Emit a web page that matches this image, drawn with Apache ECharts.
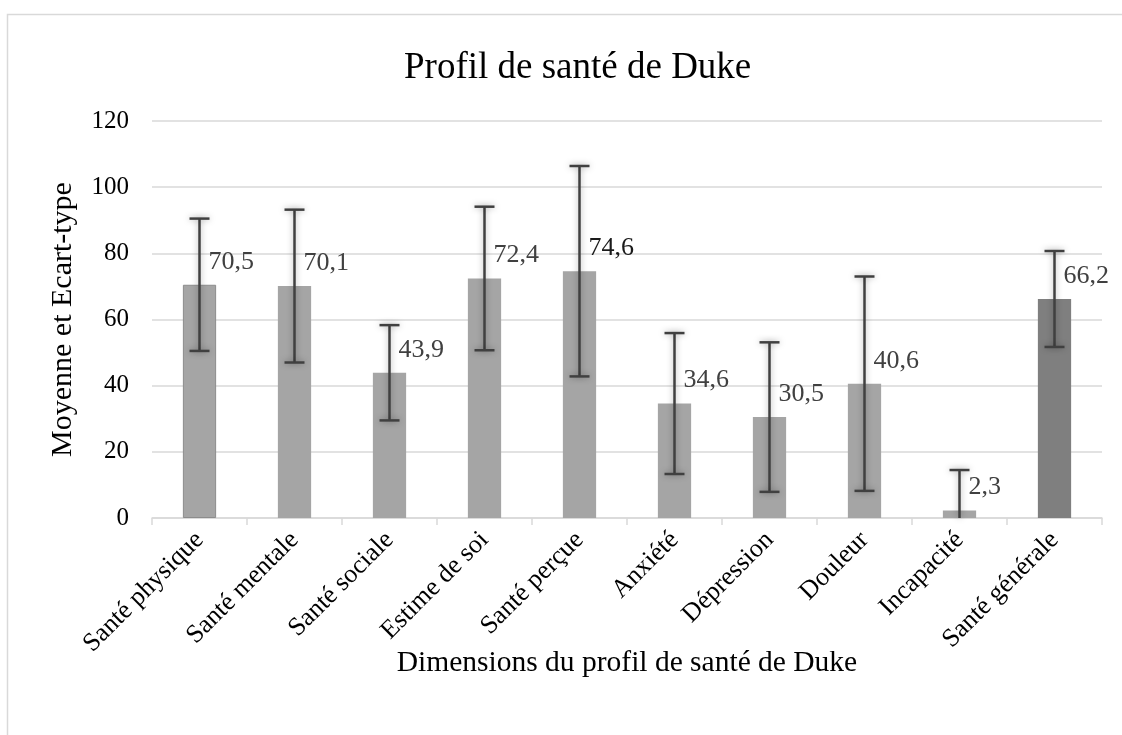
<!DOCTYPE html>
<html>
<head>
<meta charset="utf-8">
<script src="https://cdn.jsdelivr.net/npm/echarts@6/dist/echarts.min.js"></script>
<style>
  html, body { margin: 0; padding: 0; background: #fff; }
  #chart { width: 1122px; height: 735px; }
</style>
</head>
<body>
<div id="chart"></div>
<script>
var categories = ['Santé physique', 'Santé mentale', 'Santé sociale', 'Estime de soi', 'Santé perçue',
  'Anxiété', 'Dépression', 'Douleur', 'Incapacité', 'Santé générale'];
var means = [70.5, 70.1, 43.9, 72.4, 74.6, 34.6, 30.5, 40.6, 2.3, 66.2];
var stdDevs = [20.0, 23.1, 14.4, 21.7, 31.8, 21.3, 22.6, 32.4, 12.2, 14.5];
var yTicks = [0, 20, 40, 60, 80, 100, 120];

var font = '"Liberation Serif", "Times New Roman", serif';

var barData = [];
for (var i = 0; i < means.length; i++) {
  var item = { value: means[i] };
  if (i === means.length - 1) {
    item.itemStyle = { color: '#7f7f7f' };
  }
  if (i === 0) {
    item.itemStyle = { color: '#a5a5a5', borderColor: '#8c8c8c', borderWidth: 1 };
  }
  barData.push(item);
}

var errData = [];
for (var i = 0; i < means.length; i++) {
  errData.push([i, means[i], stdDevs[i]]);
}

var chart = echarts.init(document.getElementById('chart'));
chart.setOption({
  animation: false,
  backgroundColor: '#fff',
  textStyle: { fontFamily: font },
  title: {
    text: 'Profil de santé de Duke',
    left: 399,
    top: 45,
    textStyle: { fontFamily: font, fontSize: 37, fontWeight: 'normal', color: '#000' }
  },
  graphic: [{
    type: 'polyline',
    shape: { points: [[7.5, 740], [7.5, 14.5], [1130, 14.5]] },
    style: { stroke: '#d9d9d9', lineWidth: 1.5, fill: null },
    silent: true
  }],
  grid: { left: 152, right: 20, top: 121, bottom: 217 },
  xAxis: {
    type: 'category',
    data: categories,
    name: 'Dimensions du profil de santé de Duke',
    nameLocation: 'middle',
    nameGap: 130,
    nameMoveOverlap: false,
    nameTextStyle: { fontFamily: font, fontSize: 29.5, color: '#000' },
    axisLine: { lineStyle: { color: '#d9d9d9', width: 1.5 } },
    axisTick: { show: true, length: 7, lineStyle: { color: '#d9d9d9', width: 1.5 } },
    axisLabel: { rotate: 45, fontFamily: font, fontSize: 26, color: '#000', margin: 18, interval: 0 }
  },
  yAxis: {
    type: 'value',
    min: 0,
    max: 120,
    interval: 20,
    name: 'Moyenne et Ecart-type',
    nameLocation: 'middle',
    nameGap: 74,
    nameMoveOverlap: false,
    nameTextStyle: { fontFamily: font, fontSize: 30, color: '#000' },
    axisLine: { show: false },
    axisTick: { show: false },
    axisLabel: {
      fontFamily: font, fontSize: 25, color: '#000', margin: 23,
      formatter: function (v) { return yTicks.indexOf(v) >= 0 ? String(v) : ''; }
    },
    splitLine: { lineStyle: { color: '#d9d9d9', width: 1.5 } }
  },
  series: [{
    type: 'bar',
    data: barData,
    barWidth: '35%',
    itemStyle: { color: '#a5a5a5' }
  }, {
    type: 'custom',
    data: errData,
    z: 5,
    renderItem: function (params, api) {
      var idx = api.value(0);
      var m = api.value(1);
      var sd = api.value(2);
      var hi = m + sd;
      var lo = Math.max(0, m - sd);
      var pTop = api.coord([idx, hi]);
      var pLow = api.coord([idx, lo]);
      var pMean = api.coord([idx, m]);
      var cap = 10;
      var lineStyle = {
        stroke: '#404040', lineWidth: 2.5,
        shadowBlur: 6, shadowColor: 'rgba(0,0,0,0.35)'
      };
      var children = [{
        type: 'line',
        shape: { x1: pTop[0], y1: pTop[1], x2: pLow[0], y2: pLow[1] },
        style: lineStyle
      }, {
        type: 'line',
        shape: { x1: pTop[0] - cap, y1: pTop[1], x2: pTop[0] + cap, y2: pTop[1] },
        style: lineStyle
      }];
      if (m - sd >= 0) {
        children.push({
          type: 'line',
          shape: { x1: pLow[0] - cap, y1: pLow[1], x2: pLow[0] + cap, y2: pLow[1] },
          style: lineStyle
        });
      }
      children.push({
        type: 'text',
        x: pMean[0] + 9,
        y: pMean[1] - 23,
        style: {
          text: m.toFixed(1).replace('.', ','),
          fontFamily: font,
          fontSize: 26,
          fill: idx === 4 ? '#1a1a1a' : '#404040',
          align: 'left',
          verticalAlign: 'middle'
        }
      });
      return { type: 'group', children: children };
    }
  }]
});
</script>
</body>
</html>
